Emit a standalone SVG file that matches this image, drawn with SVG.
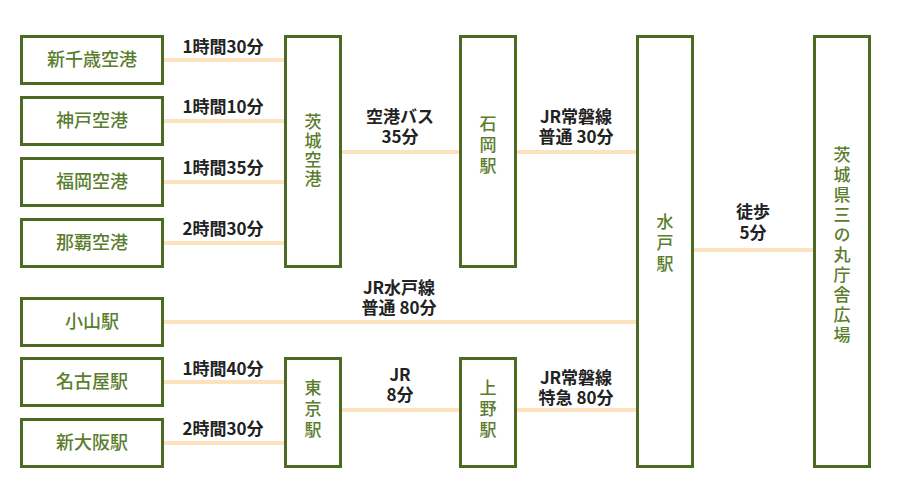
<svg xmlns="http://www.w3.org/2000/svg" width="900" height="500" viewBox="0 0 900 500">
<style>
.box{fill:#fff;stroke:#4b6b22;stroke-width:3}
.nt{font-family:"Noto Sans CJK JP","Noto Sans",sans-serif;font-size:18px;font-weight:500;fill:#5a7d2e;text-anchor:middle}
.vt{font-family:"Noto Sans CJK JP","Noto Sans",sans-serif;font-size:17px;font-weight:500;fill:#5a7d2e;text-anchor:middle;writing-mode:vertical-rl;glyph-orientation-vertical:0}
.lb{font-family:"Noto Sans CJK JP","Noto Sans",sans-serif;font-size:17px;font-weight:700;fill:#222;text-anchor:middle}
.ln{stroke:#fde3bd;stroke-width:4;fill:none}
</style>
<rect width="900" height="500" fill="#fff"/>
<g id="connectors">
<line class="ln" x1="163" y1="60" x2="284" y2="60"/>
<line class="ln" x1="163" y1="121" x2="284" y2="121"/>
<line class="ln" x1="163" y1="182" x2="284" y2="182"/>
<line class="ln" x1="163" y1="243" x2="284" y2="243"/>
<line class="ln" x1="341" y1="152" x2="460" y2="152"/>
<line class="ln" x1="516" y1="152" x2="637" y2="152"/>
<line class="ln" x1="693" y1="250" x2="814" y2="250"/>
<line class="ln" x1="163" y1="322" x2="637" y2="322"/>
<line class="ln" x1="163" y1="382" x2="285" y2="382"/>
<line class="ln" x1="163" y1="443" x2="285" y2="443"/>
<line class="ln" x1="341" y1="410" x2="460" y2="410"/>
<line class="ln" x1="516" y1="410" x2="637" y2="410"/>
<text class="lb" x="223" y="53">1時間30分</text>
<text class="lb" x="223" y="113">1時間10分</text>
<text class="lb" x="223" y="174">1時間35分</text>
<text class="lb" x="223" y="235">2時間30分</text>
<text class="lb" x="223" y="375">1時間40分</text>
<text class="lb" x="223" y="435">2時間30分</text>
<text class="lb" x="400" y="123">空港バス</text>
<text class="lb" x="400" y="143">35分</text>
<text class="lb" x="576" y="123">JR常磐線</text>
<text class="lb" x="576" y="143">普通 30分</text>
<text class="lb" x="753" y="218">徒歩</text>
<text class="lb" x="753" y="239">5分</text>
<text class="lb" x="399" y="294">JR水戸線</text>
<text class="lb" x="399" y="314">普通 80分</text>
<text class="lb" x="400" y="381">JR</text>
<text class="lb" x="400" y="401">8分</text>
<text class="lb" x="576" y="384">JR常磐線</text>
<text class="lb" x="576" y="404">特急 80分</text>
</g>
<g id="n-shinchitose"><rect class="box" x="21.5" y="36.5" width="141" height="47"/><text class="nt" x="92" y="66">新千歳空港</text></g>
<g id="n-kobe"><rect class="box" x="21.5" y="97.5" width="141" height="47"/><text class="nt" x="92" y="127">神戸空港</text></g>
<g id="n-fukuoka"><rect class="box" x="21.5" y="158.5" width="141" height="47"/><text class="nt" x="92" y="188">福岡空港</text></g>
<g id="n-naha"><rect class="box" x="21.5" y="219.5" width="141" height="47"/><text class="nt" x="92" y="249">那覇空港</text></g>
<g id="n-oyama"><rect class="box" x="21.5" y="298.5" width="141" height="47"/><text class="nt" x="92" y="328">小山駅</text></g>
<g id="n-nagoya"><rect class="box" x="21.5" y="358.5" width="141" height="47"/><text class="nt" x="92" y="388">名古屋駅</text></g>
<g id="n-shinosaka"><rect class="box" x="21.5" y="419.5" width="141" height="47"/><text class="nt" x="92" y="449">新大阪駅</text></g>
<g id="n-ibarakiairport"><rect class="box" x="285.5" y="36.5" width="55" height="230"/><text class="vt" x="313" y="151" letter-spacing="2">茨城空港</text></g>
<g id="n-ishioka"><rect class="box" x="460.5" y="36.5" width="55" height="230"/><text class="vt" x="488" y="147" letter-spacing="4">石岡駅</text></g>
<g id="n-mito"><rect class="box" x="637.5" y="36.5" width="55" height="430"/><text class="vt" x="665" y="245" letter-spacing="4">水戸駅</text></g>
<g id="n-plaza"><rect class="box" x="814.5" y="36.5" width="55" height="430"/><text class="vt" x="842" y="246" letter-spacing="3">茨城県三の丸庁舎広場</text></g>
<g id="n-tokyo"><rect class="box" x="285.5" y="358.5" width="55" height="108"/><text class="vt" x="313" y="411" letter-spacing="4">東京駅</text></g>
<g id="n-ueno"><rect class="box" x="460.5" y="358.5" width="55" height="108"/><text class="vt" x="488" y="411" letter-spacing="4">上野駅</text></g>
</svg>
